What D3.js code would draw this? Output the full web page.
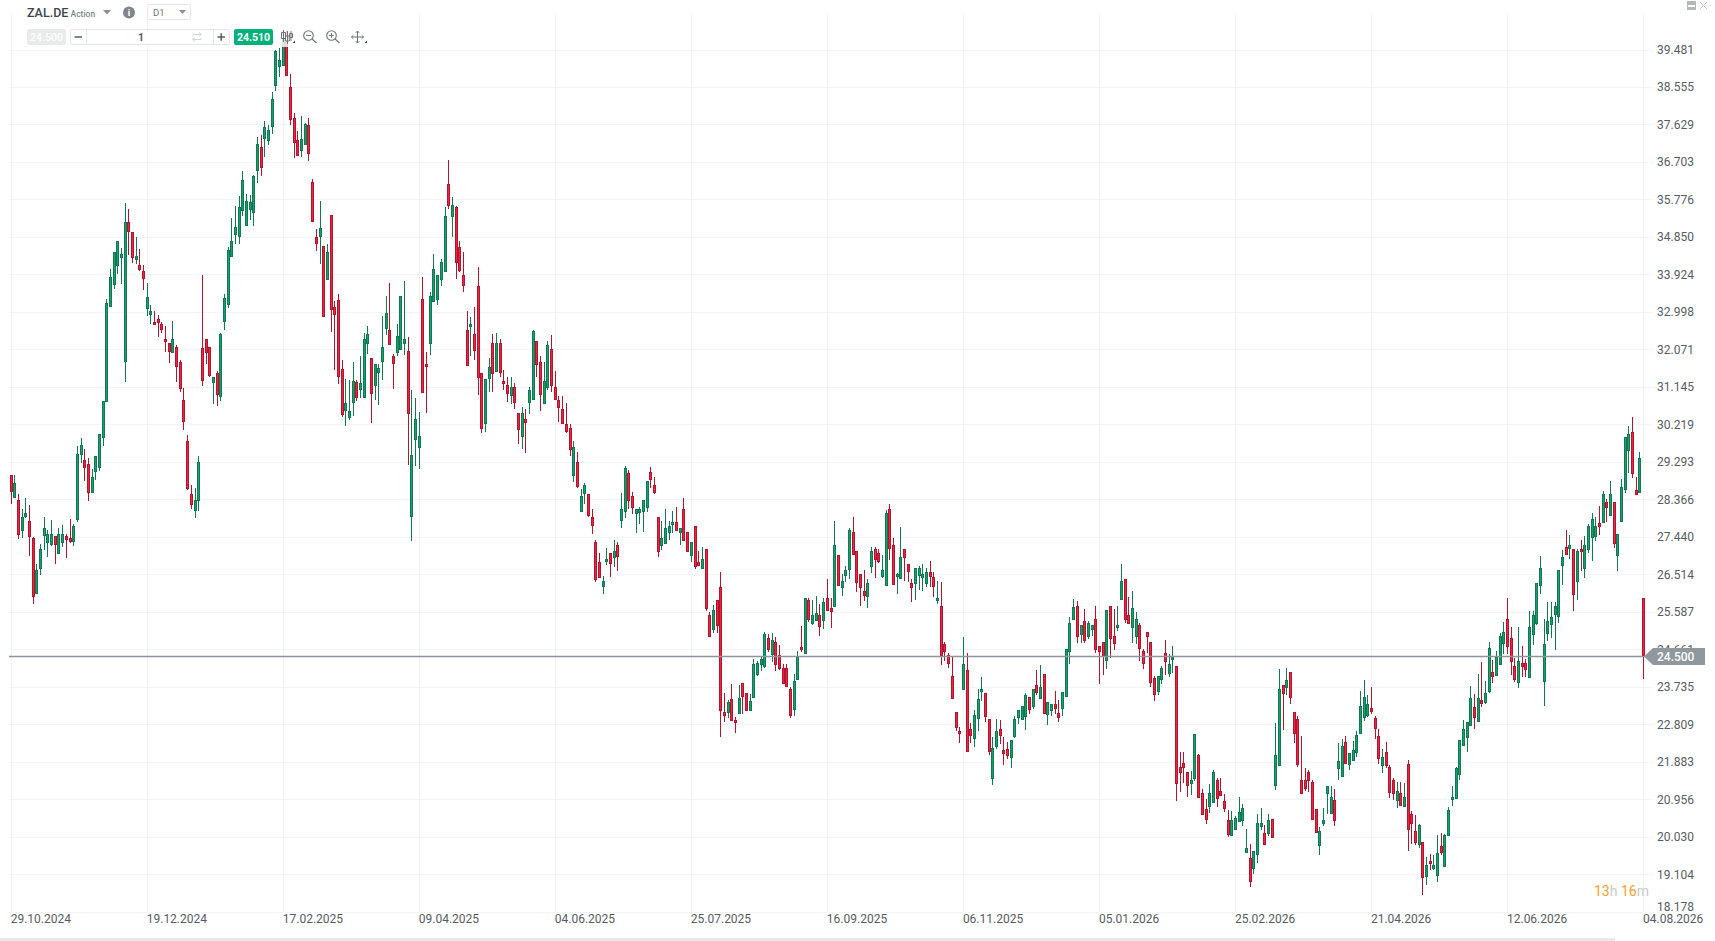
<!DOCTYPE html>
<html>
<head>
<meta charset="utf-8">
<title>ZAL.DE</title>
<script src="https://cdn.jsdelivr.net/npm/d3@7"></script>
<style>
  html, body { margin: 0; padding: 0; background: #fff; overflow: hidden; }
  svg { display: block; font-family: Roboto, sans-serif; }
  .grid line { stroke: #f3f4f4; stroke-width: 1; shape-rendering: crispEdges; }
  .axis text { font-size: 12px; fill: #555c62; font-family: Roboto, sans-serif; }
  .axis path, .axis line { display: none; }
</style>
</head>
<body>
<div id="chart"></div>
<script>
var width = 1715,
    height = 941

var dateLabels = ["29.10.2024","19.12.2024","17.02.2025","09.04.2025","04.06.2025","25.07.2025","16.09.2025","06.11.2025","05.01.2026","25.02.2026","21.04.2026","12.06.2026","04.08.2026"]
var barsPerLabel = 37
var priceTicks = [39.481,38.555,37.629,36.703,35.776,34.850,33.924,32.998,32.071,31.145,30.219,29.293,28.366,27.440,26.514,25.587,24.661,23.735,22.809,21.883,20.956,20.030,19.104,18.178]
var lastPrice = 24.5

var open = [
28.98,28.41,28.34,27.61,27.95,27.82,27.42,26.03,26.67,27.49,
27.32,27.27,27.46,27.04,27.32,27.45,27.40,27.32,27.88,29.47,
29.33,29.25,28.55,29.05,29.17,29.89,30.80,33.15,33.69,34.14,
34.36,31.79,35.23,34.96,34.31,34.15,34.02,33.10,32.93,32.76,
32.81,32.71,32.32,32.24,31.99,32.12,31.75,30.81,29.82,28.51,
28.11,28.35,32.10,32.32,32.12,31.27,31.50,30.93,32.75,33.18,
34.39,34.91,34.86,35.50,35.13,35.53,35.47,36.51,37.07,37.30,
37.24,37.60,38.59,39.06,39.11,39.88,38.55,37.80,37.24,36.98,
37.15,37.61,36.20,34.84,34.85,34.62,33.82,35.38,33.11,33.28,
31.58,30.57,30.41,30.78,31.26,31.11,30.90,32.21,31.87,31.17,
31.49,31.79,32.58,32.56,31.92,31.99,32.06,32.21,32.02,27.96,
29.84,29.66,33.31,31.70,32.21,33.28,33.30,33.79,33.99,36.15,
35.35,35.60,34.59,33.92,32.56,32.63,32.44,33.63,31.50,30.26,
31.37,32.22,31.52,32.24,31.28,31.20,30.95,31.13,30.51,29.91,
30.34,30.78,30.85,32.29,31.75,30.75,31.15,32.07,31.13,30.83,
30.61,30.24,30.14,28.95,29.28,28.08,28.50,28.49,27.92,27.32,
26.81,26.23,26.85,27.03,26.95,27.23,27.86,28.06,29.01,28.46,
28.03,28.06,28.06,28.18,29.05,28.71,27.92,27.22,27.29,27.56,
27.74,27.80,27.54,28.12,27.57,27.00,27.70,26.83,26.67,27.13,
25.52,25.17,25.87,26.19,23.12,23.11,23.44,22.92,23.11,23.82,
23.57,23.16,23.49,24.05,24.28,24.25,24.93,24.55,24.83,24.52,
24.19,24.21,23.67,23.21,23.93,24.73,24.57,25.87,25.29,25.39,
25.50,25.39,25.94,25.67,25.73,27.00,26.20,26.50,26.63,27.57,
27.10,26.51,26.11,25.98,26.70,27.15,27.03,26.48,26.25,28.14,
27.25,26.48,26.43,27.13,26.78,26.31,26.28,26.48,26.43,26.30,
26.58,26.46,25.88,25.72,24.78,24.51,24.01,23.10,22.65,23.68,
24.14,22.70,22.47,22.98,23.61,23.57,22.95,21.48,22.27,22.70,
22.18,22.21,21.98,22.51,22.98,22.93,23.02,23.49,23.24,23.79,
23.46,24.04,23.07,23.14,23.32,23.08,23.21,23.49,24.62,25.41,
25.72,25.04,25.37,24.99,25.17,25.42,24.75,24.83,24.38,25.72,
25.00,25.19,25.91,26.39,25.50,25.22,25.00,25.25,24.63,25.08,
24.83,23.96,23.63,23.91,24.56,24.08,24.42,24.26,21.76,21.86,
21.62,21.36,21.47,22.04,21.12,20.72,20.79,20.89,21.44,21.15,
20.92,20.45,20.09,20.22,20.42,20.45,19.65,19.51,19.28,19.62,
20.30,20.13,20.12,20.48,21.31,21.80,23.77,23.73,24.09,23.10,
22.95,21.44,21.44,21.64,21.39,20.72,19.83,20.37,21.11,20.63,
20.95,21.71,21.53,22.36,21.83,21.93,22.13,22.60,22.99,23.04,
23.20,22.97,22.53,21.80,22.13,21.76,21.42,20.92,21.12,20.79,
21.82,20.58,20.16,19.84,19.89,19.07,19.42,19.26,19.09,19.79,
19.30,20.05,20.95,20.97,21.59,22.30,22.50,22.80,23.23,22.90,
23.42,23.35,23.63,24.09,24.01,24.31,24.80,25.42,24.95,24.24,
23.83,24.33,24.33,23.99,25.02,25.32,26.24,23.89,25.05,25.27,
25.52,25.47,26.72,27.20,27.17,27.15,26.34,27.15,26.67,27.15,
27.42,27.47,27.77,27.79,28.30,27.99,28.29,26.98,27.84,28.61,
29.60,30.04,28.59,28.54,25.92]

var high = [
28.98,28.96,28.49,28.12,28.40,28.22,27.44,26.76,27.26,27.93,
27.60,27.85,27.47,27.65,27.73,27.50,27.89,27.75,29.68,29.87,
29.60,29.38,29.11,29.43,29.99,30.79,33.31,34.07,34.47,34.76,
34.57,35.68,35.53,34.96,34.84,34.54,34.15,33.70,33.18,33.01,
32.92,32.74,32.65,32.24,32.77,32.17,31.80,31.11,29.95,28.71,
28.64,29.43,33.90,32.34,32.12,31.40,31.53,32.47,33.43,34.59,
35.32,35.61,35.85,36.48,35.91,35.88,36.38,37.33,37.38,37.71,
37.61,38.44,39.47,39.51,39.96,39.96,38.88,37.90,37.47,37.83,
37.67,37.80,36.28,35.04,35.73,34.62,34.67,35.38,33.27,33.43,
31.82,31.33,31.31,31.77,31.31,31.92,32.47,32.64,31.87,31.70,
31.70,32.89,33.39,33.71,31.96,32.70,33.38,33.75,32.37,31.08,
30.88,30.52,33.85,32.00,33.50,34.44,33.90,34.30,35.58,36.74,
35.83,35.61,34.76,34.47,33.03,32.86,33.11,34.10,31.50,31.35,
31.85,32.45,32.47,32.34,31.55,31.38,31.40,31.25,30.51,30.64,
30.59,31.13,32.56,32.29,31.91,31.77,32.29,32.42,31.53,30.91,
30.91,30.74,30.24,29.80,29.53,28.62,28.78,28.49,28.14,27.36,
27.04,26.48,27.16,27.03,27.36,27.32,28.52,29.19,29.09,28.56,
28.14,28.17,28.34,28.83,29.16,28.91,27.92,27.83,28.12,27.82,
28.09,28.17,27.65,28.40,27.57,27.32,27.70,27.10,27.18,27.13,
25.59,25.75,25.87,26.58,23.58,23.40,23.80,23.00,23.77,23.82,
23.59,23.55,24.41,24.36,24.47,25.08,25.03,25.06,24.96,24.76,
24.31,24.31,23.72,24.06,24.61,25.23,25.92,25.94,25.87,25.97,
25.79,25.94,26.39,25.92,27.84,27.00,26.53,26.71,27.67,27.93,
27.10,26.51,26.63,26.39,27.18,27.18,27.15,26.98,28.10,28.25,
27.42,26.55,27.68,27.13,26.78,26.41,26.66,26.72,26.77,26.68,
26.84,26.56,26.34,26.32,24.85,24.58,24.46,23.10,22.73,24.96,
24.58,22.83,23.17,23.67,23.97,23.57,22.95,22.49,22.93,22.91,
22.50,22.37,22.41,23.01,23.16,23.26,23.57,23.49,23.67,24.14,
24.27,24.05,23.37,23.32,23.63,23.40,23.60,24.66,25.46,25.90,
25.85,25.26,25.65,25.36,25.26,25.73,24.75,24.85,25.62,25.73,
25.65,25.74,26.78,26.39,25.95,26.09,25.58,25.30,24.66,25.08,
24.83,24.01,24.01,24.24,24.90,24.54,24.74,24.26,22.13,22.13,
21.62,21.65,22.58,22.08,21.20,20.97,21.33,21.69,21.49,21.47,
21.08,20.68,20.66,20.55,21.00,20.85,20.21,19.86,19.69,20.60,
20.75,20.31,20.58,20.48,22.85,24.17,23.77,24.21,24.09,23.10,
23.01,22.51,21.74,21.67,21.42,20.72,20.26,20.75,21.29,21.29,
21.22,22.34,22.44,22.53,22.11,22.40,22.65,23.63,23.91,23.54,
23.72,23.02,22.70,22.21,22.38,21.81,21.49,21.39,21.39,21.37,
21.92,20.66,20.56,20.34,19.89,19.52,19.60,19.58,20.07,20.13,
20.11,20.76,21.28,21.75,22.43,22.91,22.87,23.75,23.56,24.06,
24.34,23.87,24.83,24.39,24.63,25.06,25.33,25.92,25.22,24.44,
25.22,24.74,24.43,25.60,25.60,26.31,26.96,25.42,25.83,25.83,
25.84,26.61,27.11,27.61,27.48,27.15,27.13,27.36,27.47,27.75,
28.04,27.93,28.20,28.57,28.37,28.82,28.29,27.52,28.87,29.90,
30.17,30.40,28.91,29.53,25.92]

var low = [
28.25,28.41,27.38,27.41,27.90,26.96,25.78,26.03,26.49,27.11,
26.94,27.22,26.76,27.04,27.18,26.91,27.28,27.21,27.80,29.26,
28.82,28.32,28.55,28.84,29.06,29.68,30.80,33.15,33.56,33.93,
33.69,31.26,34.40,34.20,34.18,34.01,33.54,32.89,32.71,32.67,
32.38,32.47,32.00,31.73,31.99,31.26,31.02,30.08,28.59,28.12,
27.90,28.07,31.16,31.71,31.39,30.72,30.67,30.79,32.55,33.09,
34.39,34.67,34.67,35.37,35.13,35.27,35.12,36.19,36.35,36.83,
37.11,37.39,38.46,38.81,39.11,38.83,37.61,36.81,36.88,36.83,
37.15,36.73,35.23,34.51,34.18,32.88,33.78,32.50,31.56,31.21,
30.41,30.18,30.32,30.43,30.79,30.87,30.90,31.96,30.25,30.82,
30.69,31.31,32.42,32.21,31.09,31.91,32.06,31.93,29.21,27.33,
29.19,29.11,31.00,30.50,31.93,33.28,33.17,33.64,33.99,35.54,
34.85,33.81,33.98,33.49,31.69,31.91,31.81,30.94,30.00,30.03,
31.02,31.02,31.52,31.39,31.07,30.77,30.72,30.60,29.73,29.61,
29.51,30.47,30.85,31.39,30.55,30.75,31.08,31.02,30.83,30.27,
30.22,30.00,29.43,28.79,28.64,28.08,28.25,27.93,27.51,26.32,
26.43,26.02,26.74,26.44,26.69,26.59,27.65,27.90,28.12,28.00,
27.53,27.75,27.56,28.05,28.64,28.49,26.94,27.11,27.29,27.36,
27.53,27.61,27.23,27.33,27.09,26.81,26.64,26.71,26.64,25.60,
24.96,25.06,25.06,22.49,22.86,22.96,22.92,22.59,23.11,23.06,
23.14,23.14,23.46,24.00,24.13,24.19,24.59,24.34,24.12,24.14,
23.81,23.75,22.97,23.01,23.93,24.59,24.57,25.33,25.26,25.39,
24.98,25.16,25.64,25.18,25.73,26.25,25.97,26.32,26.40,27.03,
26.07,25.73,25.85,25.68,26.55,26.42,26.79,26.43,26.25,26.86,
26.29,26.02,26.39,26.35,26.32,25.83,25.88,26.12,26.09,26.20,
26.20,25.95,25.78,24.27,24.37,24.19,23.47,22.64,22.34,23.68,
22.13,22.34,22.24,22.64,23.38,22.87,22.04,21.30,22.19,22.32,
21.80,21.95,21.72,22.48,22.81,22.91,22.66,23.06,23.19,23.52,
23.44,23.07,22.79,23.01,23.07,22.86,23.01,23.49,24.29,25.41,
24.81,24.81,24.81,24.91,25.00,24.57,23.80,24.02,24.17,24.45,
24.64,25.11,25.91,25.31,25.29,24.81,24.80,24.37,24.18,24.56,
23.73,23.39,23.54,23.81,24.02,23.98,24.08,20.92,21.13,21.37,
21.01,21.06,21.41,21.01,20.59,20.35,20.61,20.89,20.76,21.04,
20.63,20.02,20.05,20.19,20.42,20.29,19.62,18.78,19.10,19.37,
20.19,19.82,20.05,19.99,21.18,21.80,22.66,23.52,23.30,22.34,
21.75,21.11,21.16,21.13,20.44,20.12,19.57,20.29,20.60,20.58,
20.29,21.43,21.53,21.82,21.67,21.89,21.99,22.59,22.90,22.99,
23.07,22.44,21.82,21.60,21.72,20.98,20.95,20.73,20.79,20.79,
19.68,19.86,19.82,19.74,18.58,18.83,19.20,19.20,18.90,19.57,
19.28,20.05,20.79,20.96,21.43,22.27,22.13,22.80,22.69,22.90,
23.24,23.30,23.57,23.83,24.01,24.31,24.54,24.54,24.02,23.86,
23.71,23.98,23.98,23.99,24.76,25.25,26.03,23.26,24.87,24.94,
24.65,25.32,26.25,27.03,26.90,25.60,25.87,26.59,26.43,27.03,
26.84,27.34,27.49,27.79,27.80,27.97,27.16,26.59,27.81,28.53,
29.02,28.89,28.48,28.54,23.93]

var close = [
28.58,28.76,27.51,27.92,28.02,27.46,25.98,26.61,27.15,27.67,
27.51,27.52,27.27,27.50,27.52,27.37,27.33,27.70,29.48,29.70,
29.15,28.55,28.93,29.43,29.99,30.79,33.21,33.87,34.47,34.74,
34.44,35.23,35.01,34.34,34.39,34.06,33.84,33.36,33.01,32.71,
32.73,32.58,32.26,32.04,32.32,31.64,31.10,30.28,28.65,28.26,
28.36,29.28,31.32,32.01,31.44,31.40,30.98,32.45,33.33,34.52,
34.76,35.09,35.58,36.25,35.73,35.71,36.35,37.15,36.58,37.56,
37.48,38.27,39.44,39.21,39.85,38.83,37.77,37.20,36.88,37.26,
37.64,36.93,35.23,34.68,35.06,32.88,34.49,33.05,32.93,31.39,
30.47,30.74,30.56,31.30,30.90,31.25,32.34,32.44,31.00,31.70,
31.60,32.14,32.96,32.21,31.74,32.39,33.38,32.32,30.50,29.47,
30.34,29.94,31.00,31.64,33.38,34.07,33.90,34.22,35.36,35.62,
35.63,34.24,34.01,33.67,31.69,32.69,32.04,31.37,30.13,31.35,
31.63,31.47,32.22,31.52,31.22,31.00,31.14,30.75,30.11,30.49,
30.26,31.08,32.52,31.72,30.95,31.30,32.19,31.17,30.83,30.65,
30.26,30.06,29.62,29.65,28.68,28.46,28.71,27.98,27.71,26.40,
26.43,26.36,26.90,26.78,27.10,26.97,28.14,29.13,28.35,28.18,
28.12,28.14,28.34,28.83,28.87,28.53,27.09,27.40,27.65,27.72,
27.80,27.61,27.65,27.36,27.09,27.32,26.72,26.75,26.90,25.68,
24.99,25.64,25.24,23.14,23.04,23.35,22.92,22.87,23.47,23.49,
23.14,23.39,24.31,24.33,24.41,25.05,24.65,24.90,24.28,24.20,
23.83,23.77,23.02,23.89,24.47,24.67,25.92,25.39,25.50,25.57,
25.22,25.84,25.64,25.59,27.23,26.25,26.36,26.63,27.60,27.03,
26.33,26.18,26.01,26.29,27.08,26.90,26.82,26.63,28.02,27.17,
26.29,26.53,26.95,26.92,26.60,26.21,26.66,26.66,26.51,26.58,
26.48,26.23,25.94,24.52,24.60,24.30,23.47,22.74,22.60,24.29,
22.13,22.55,23.05,23.44,23.67,22.99,22.15,22.23,22.65,22.55,
22.10,22.05,22.41,22.93,23.16,23.25,23.54,23.19,23.67,23.61,
23.74,23.07,23.37,23.30,23.21,22.98,23.60,24.66,25.30,25.70,
24.99,25.26,24.89,25.30,25.26,24.67,24.62,24.52,25.62,24.94,
24.82,25.25,26.36,25.41,25.29,25.69,25.42,24.67,24.33,24.99,
23.83,23.56,24.01,24.19,24.35,24.31,24.47,21.36,21.63,21.76,
21.29,21.44,22.56,21.01,20.59,20.47,21.12,21.62,20.99,21.04,
20.74,20.10,20.45,20.50,20.65,20.75,19.76,18.94,19.69,20.38,
20.38,19.85,20.45,20.03,22.06,23.67,23.58,23.91,23.46,22.57,
21.83,21.11,21.25,21.43,20.47,20.15,20.18,20.45,21.29,21.02,
20.45,21.89,22.26,21.85,22.11,22.18,22.55,23.27,23.49,23.30,
23.13,22.72,21.98,21.99,21.82,21.14,21.10,21.15,20.82,21.02,
20.21,20.36,19.88,20.31,19.02,19.34,19.36,19.34,19.64,19.65,
20.07,20.68,21.00,21.72,22.43,22.70,22.87,23.47,22.99,23.47,
23.34,23.57,24.70,24.00,24.46,25.00,25.08,24.75,24.38,23.91,
24.36,24.25,24.19,25.22,25.50,26.31,26.66,24.80,25.35,25.45,
25.72,26.61,26.93,27.03,27.25,26.04,27.09,27.09,27.25,27.72,
27.87,27.72,27.70,28.49,28.18,28.51,27.28,27.51,28.68,29.90,
29.99,29.02,28.48,29.38,24.50]

var green = {fill: "#1a9f6c", stroke: "#0f7a52"},
    red = {fill: "#ee2340", stroke: "#b5142f"}

var svg = d3.select("#chart").append("svg")
    .attr("width", width)
    .attr("height", height)

var x = d3.scaleLinear()
  .domain([0, open.length - 1])
  .range([11.2, 1643.5])

var y = d3.scaleLinear()
  .domain([d3.min(priceTicks), d3.max(priceTicks)])
  .range([911.7, 49.5])

var labelIndex = dateLabels.map((d, i) => i*barsPerLabel)
var py = v => Math.round(v) + 0.5
// bars fall on whole pixels in a 3,4,4 rhythm
var bx = i => Math.floor(x(i)) + 0.5

// grid
var grid = svg.append("g").attr("class", "grid")

grid.selectAll("line.h")
    .data(priceTicks)
  .enter().append("line")
    .attr("class", "h")
    .attr("x1", 9)
    .attr("x2", 1654)
    .attr("y1", d => py(y(d)))
    .attr("y2", d => py(y(d)))

grid.selectAll("line.v")
    .data(labelIndex)
  .enter().append("line")
    .attr("class", "v")
    .attr("x1", d => bx(d))
    .attr("x2", d => bx(d))
    .attr("y1", 12)
    .attr("y2", 912)

// axes
var yAxis = svg.append("g")
    .attr("class", "axis")
    .attr("transform", "translate(1657,0)")
    .call(d3.axisRight(y).tickValues(priceTicks).tickSize(0).tickPadding(0).tickFormat(d3.format(".3f")))
// bottom label sits above its line, clear of the dates
yAxis.selectAll("text").filter(d => d === d3.min(priceTicks)).attr("y", -5)

var xAxis = svg.append("g")
    .attr("class", "axis")
    .attr("transform", "translate(-1,913)")
    .call(d3.axisBottom(x).tickValues(labelIndex).tickSize(0).tickPadding(0).tickFormat((d, i) => dateLabels[i]))
xAxis.selectAll("text").attr("text-anchor", "start").attr("dy", "0.71em").attr("y", 1)

// candles
var candles = svg.append("g").selectAll("g")
    .data(d3.range(open.length))
  .enter().append("g")
    .attr("shape-rendering", "crispEdges")

candles.append("line")
    .attr("x1", i => bx(i))
    .attr("x2", i => bx(i))
    .attr("y1", i => y(high[i]))
    .attr("y2", i => y(low[i]))
    .attr("stroke", i => close[i] >= open[i] ? green.stroke : red.stroke)

candles.append("rect")
    .attr("x", i => bx(i) - 1)
    .attr("width", 2)
    .attr("y", i => Math.round(y(Math.max(open[i], close[i]))) + 0.5)
    .attr("height", i => Math.max(1, Math.round(Math.abs(y(open[i]) - y(close[i])))))
    .attr("fill", i => close[i] >= open[i] ? green.fill : red.fill)
    .attr("stroke", i => close[i] >= open[i] ? green.stroke : red.stroke)

// toolbar fades the candles running behind it
svg.append("rect").attr("x", 270).attr("y", 0).attr("width", 30).attr("height", 47)
    .attr("fill", "#fff").attr("opacity", 0.82)

// last price line and tag
var lastY = Math.round(y(lastPrice)) + 0.5

svg.append("line")
    .attr("x1", 9)
    .attr("x2", 1645)
    .attr("y1", lastY)
    .attr("y2", lastY)
    .attr("stroke", "#8d9498")
    .attr("stroke-width", 1.5)

svg.append("path")
    .attr("d", `M1644,${lastY} L1653,${lastY-8.5} H1705 V${lastY+8.5} H1653 Z`)
    .attr("fill", "#8e989d")

svg.append("text")
    .attr("x", 1657)
    .attr("y", lastY + 4)
    .attr("fill", "#fff")
    .attr("font-size", 12)
    .attr("font-weight", 500)
    .text(d3.format(".3f")(lastPrice))

// countdown
var countdown = svg.append("text")
    .attr("x", 1594)
    .attr("y", 896)
    .attr("font-size", 14)
countdown.append("tspan").attr("fill", "#ff9e2c").text("13")
countdown.append("tspan").attr("fill", "#c9cbcd").text("h ")
countdown.append("tspan").attr("fill", "#ff9e2c").text("16")
countdown.append("tspan").attr("fill", "#c9cbcd").text("m")

// top toolbar
var bar = svg.append("g")

bar.append("text").attr("x", 27).attr("y", 17).attr("font-size", 12.5).attr("font-weight", 500)
    .attr("fill", "#3c454d").text("ZAL.DE")
bar.append("text").attr("x", 70.5).attr("y", 17).attr("font-size", 8.5).attr("font-weight", 500)
    .attr("fill", "#7d858b").text("Action")
bar.append("path").attr("d", "M103,10 H111 L107,14.5 Z").attr("fill", "#8a9095")
bar.append("circle").attr("cx", 129).attr("cy", 12.5).attr("r", 6).attr("fill", "#80878c")
bar.append("text").attr("x", 129).attr("y", 16).attr("font-size", 9.5).attr("font-weight", 700)
    .attr("text-anchor", "middle").attr("fill", "#fff").text("i")

bar.append("rect").attr("x", 147.5).attr("y", 4.5).attr("width", 43).attr("height", 15).attr("rx", 2)
    .attr("fill", "#fff").attr("stroke", "#e4e6e7")
bar.append("text").attr("x", 153).attr("y", 16).attr("font-size", 9.5).attr("fill", "#6f767c").text("D1")
bar.append("path").attr("d", "M179,10 H186 L182.5,14 Z").attr("fill", "#8a9095")

bar.append("rect").attr("x", 27).attr("y", 29).attr("width", 39).attr("height", 16).attr("rx", 2).attr("fill", "#e9ebeb")
bar.append("text").attr("x", 46.5).attr("y", 41).attr("font-size", 10.5).attr("font-weight", 500)
    .attr("text-anchor", "middle").attr("fill", "#fdfdfd").text("24.500")

bar.append("rect").attr("x", 70.5).attr("y", 29.5).attr("width", 159).attr("height", 15).attr("rx", 2)
    .attr("fill", "#fff").attr("stroke", "#e4e6e7")
bar.append("path").attr("d", "M86.5,30 V44 M213.5,30 V44").attr("stroke", "#e4e6e7").attr("fill", "none")
bar.append("path").attr("d", "M74.5,37 H82").attr("stroke", "#555c62").attr("stroke-width", 1.5)
bar.append("path").attr("d", "M217.5,37 H225 M221.2,33.2 V40.8").attr("stroke", "#555c62").attr("stroke-width", 1.5)
bar.append("text").attr("x", 141).attr("y", 41).attr("font-size", 10.5).attr("font-weight", 700)
    .attr("text-anchor", "middle").attr("fill", "#555c62").text("1")
bar.append("path").attr("d", "M193,36 V34.5 H201 M199,32.5 L201.5,34.5 L199,36.5 M201,38 V39.5 H193 M195,37.5 L192.5,39.5 L195,41.5")
    .attr("stroke", "#d3d6d8").attr("fill", "none")

bar.append("rect").attr("x", 234).attr("y", 29).attr("width", 39).attr("height", 16).attr("rx", 2).attr("fill", "#00b27a")
bar.append("text").attr("x", 253.5).attr("y", 41).attr("font-size", 10.5).attr("font-weight", 700)
    .attr("text-anchor", "middle").attr("fill", "#fff").text("24.510")

bar.append("path").attr("d", "M283.5,30 V42 M281.5,32.5 h4 v6 h-4 Z M287.5,31 V44 M285.5,36 h3.8 v5 h-3.8 Z M291,31 V41 M289.5,33.5 h3 v4 h-3 Z")
    .attr("stroke", "#6b7378").attr("fill", "#fff")
bar.append("path").attr("d", "M295,43 h-2.5 l2.5,-2.5 Z M367,43 h-2.5 l2.5,-2.5 Z").attr("fill", "#3d4449")

var glass = [[308.5, false], [331.5, true]]
glass.forEach(g => {
  var cx = g[0]
  bar.append("circle").attr("cx", cx).attr("cy", 35.5).attr("r", 4.8).attr("fill", "none").attr("stroke", "#6b7378").attr("stroke-width", 1.1)
  bar.append("path").attr("d", `M${cx+3.6},39 L${cx+8},43`).attr("stroke", "#6b7378").attr("stroke-width", 1.1)
  bar.append("path").attr("d", `M${cx-2.4},35.5 H${cx+2.4}` + (g[1] ? ` M${cx},33.1 V37.9` : "")).attr("stroke", "#6b7378")
})
bar.append("path").attr("d", "M357.5,31 V43 M351.5,37 H363.5 M355.8,32.8 L357.5,31 L359.2,32.8 M355.8,41.2 L357.5,43 L359.2,41.2 M353.3,35.3 L351.5,37 L353.3,38.7 M361.7,35.3 L363.5,37 L361.7,38.7")
    .attr("stroke", "#6b7378").attr("fill", "none")

// window buttons and bottom strip
svg.append("rect").attr("x", 1687).attr("y", 1).attr("width", 9).attr("height", 9).attr("fill", "#b4b8bb")
svg.append("rect").attr("x", 1688).attr("y", 5).attr("width", 7).attr("height", 2).attr("fill", "#fff")
svg.append("path").attr("d", "M1700,2 L1707,9 M1707,2 L1700,9").attr("stroke", "#c3c6c8").attr("fill", "none")
svg.append("rect").attr("x", 0).attr("y", 938).attr("width", 1615).attr("height", 3).attr("fill", "#e6e8ea")
</script>
</body>
</html>
